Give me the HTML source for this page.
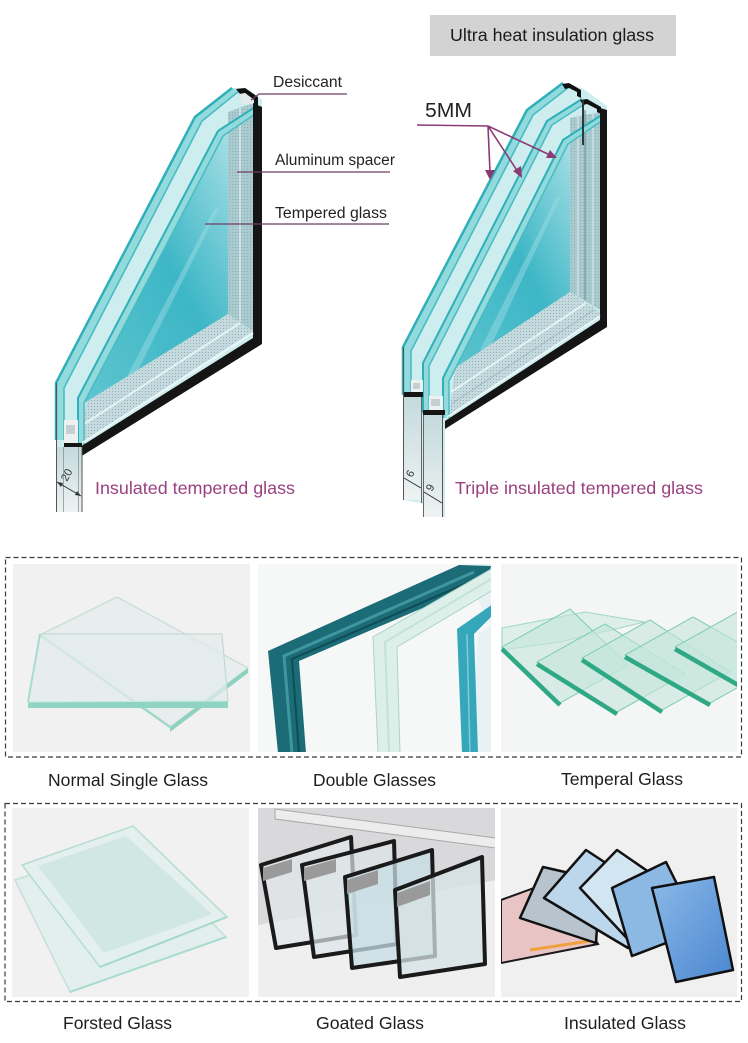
<!DOCTYPE html>
<html><head><meta charset="utf-8"><style>
html,body{margin:0;padding:0;background:#fff;}
svg{display:block;}
text{font-family:"Liberation Sans",Arial,sans-serif;}
</style></head><body>
<svg width="748" height="1043" viewBox="0 0 748 1043" xmlns="http://www.w3.org/2000/svg">
<defs>
 <pattern id="dots" width="3" height="3" patternUnits="userSpaceOnUse"><circle cx="1.5" cy="1.5" r="0.55" fill="#86a8ad"/></pattern>
 <linearGradient id="inner" x1="1" y1="0" x2="0" y2="1"><stop offset="0" stop-color="#a3dee4"/><stop offset="0.45" stop-color="#3db6c6"/><stop offset="1" stop-color="#5ec5cf"/></linearGradient>
 <linearGradient id="xsec" x1="0" y1="0" x2="0" y2="1"><stop offset="0" stop-color="#c4dadd"/><stop offset="1" stop-color="#eef2f2"/></linearGradient>
 <linearGradient id="blue6" x1="0" y1="0" x2="1" y2="1"><stop offset="0" stop-color="#8cb9e8"/><stop offset="1" stop-color="#4a86d0"/></linearGradient>
 <clipPath id="c1"><rect x="13" y="564" width="237" height="188"/></clipPath>
 <clipPath id="c2"><rect x="258" y="564" width="233" height="188"/></clipPath>
 <clipPath id="c3"><rect x="501" y="564" width="236" height="188"/></clipPath>
 <clipPath id="c4"><rect x="12" y="808" width="237" height="189"/></clipPath>
 <clipPath id="c5"><rect x="258" y="808" width="237" height="189"/></clipPath>
 <clipPath id="c6"><rect x="501" y="808" width="236" height="189"/></clipPath>
</defs>

<!-- header -->
<rect x="430" y="15" width="246" height="41" fill="#d3d3d3"/>
<text x="450" y="41" font-size="17.8" textLength="204" lengthAdjust="spacingAndGlyphs" fill="#1a1a1a">Ultra heat insulation glass</text>

<!-- ============ LEFT DIAGRAM ============ -->
<g>
<polygon points="56,383 195,117 232,88 246,88 262,100 262,343 82,456 82,512 56,512" fill="#cdedef"/>
<polygon points="84,402 223,135 228,135 228,314 86,402" fill="url(#inner)"/>
<polygon points="125,380 214,210 220,206 134,378" fill="#9fdde4" opacity="0.45"/>
<polygon points="228,112 253,103 253,331 228,315" fill="#a9cbd0"/>
<polygon points="228,112 253,103 253,331 228,315" fill="url(#dots)"/>
<line x1="240" y1="108" x2="240" y2="322" stroke="#cde0e3" stroke-width="2"/>
<polygon points="86,402 228,314 253,331 82,442" fill="#c4dade"/>
<polygon points="86,402 228,314 253,331 82,442" fill="url(#dots)"/>
<line x1="84" y1="424" x2="240" y2="323" stroke="#e6f3f4" stroke-width="2"/>
<polygon points="56,440 56,383 195,117 232,88 239,91 202,121 64,388 64,440" fill="#93dadd"/>
<polyline points="56,440 56,383 195,117 232,88" fill="none" stroke="#2fb0b9" stroke-width="2.5"/>
<polyline points="64,440 64,388 202,121 239,91" fill="none" stroke="#48bcc3" stroke-width="1.6"/>
<polygon points="78,445 78,398 218,131 255,107 258,112 223,136 84,403 84,445" fill="#93dadd"/>
<polyline points="78,445 78,398 218,131 255,107" fill="none" stroke="#2fb0b9" stroke-width="2"/>
<polyline points="84,445 84,403 223,136 258,112" fill="none" stroke="#48bcc3" stroke-width="1.5"/>
<polygon points="253,103 262,107 262,344 80,457 80,447 253,338" fill="#151515"/>
<line x1="82" y1="443" x2="253" y2="333" stroke="#eef7f8" stroke-width="1.8"/>
<path d="M236,89 L245,88 L258,97 L258,106 L254,104 L254,100 L245,93 L240,94 Z" fill="#111"/>
<polygon points="240,94 245,93 253,99 253,104 242,104" fill="#e4eaeb"/>
<!-- cross-section -->
<rect x="56" y="447" width="26" height="65" fill="url(#xsec)"/>
<rect x="64" y="420" width="14" height="24" fill="#eef1f1"/>
<rect x="66" y="425" width="9" height="9" fill="#c6cfd1"/>
<rect x="64" y="443" width="18" height="4" fill="#151515"/>
<line x1="56.5" y1="383" x2="56.5" y2="512" stroke="#555" stroke-width="1"/>
<line x1="63.5" y1="447" x2="63.5" y2="512" stroke="#8a9597" stroke-width="0.8"/>
<line x1="78.5" y1="447" x2="78.5" y2="512" stroke="#8a9597" stroke-width="0.8"/>
<line x1="82" y1="447" x2="82" y2="512" stroke="#555" stroke-width="1"/>
<line x1="57" y1="482" x2="81" y2="496" stroke="#333" stroke-width="1"/>
<polygon points="57,482 63,483 61,487" fill="#333"/>
<polygon points="81,496 75,495 77,491" fill="#333"/>
<text x="0" y="0" font-size="11" fill="#333" transform="translate(67,482) rotate(-62)">20</text>
</g>

<!-- left labels -->
<text x="273" y="87" font-size="15.5" textLength="69" lengthAdjust="spacingAndGlyphs" fill="#222">Desiccant</text>
<polyline points="251,100 259,94 347,94" fill="none" stroke="#6e3f63" stroke-width="1.3"/>
<text x="275" y="165" font-size="15.5" textLength="120" lengthAdjust="spacingAndGlyphs" fill="#222">Aluminum spacer</text>
<line x1="237" y1="172" x2="390" y2="172" stroke="#6e3f63" stroke-width="1.3"/>
<text x="275" y="218" font-size="15.5" textLength="112" lengthAdjust="spacingAndGlyphs" fill="#222">Tempered glass</text>
<line x1="205" y1="224" x2="389" y2="224" stroke="#6e3f63" stroke-width="1.3"/>
<text x="95" y="494" font-size="17.8" textLength="200" lengthAdjust="spacingAndGlyphs" fill="#9a3f80">Insulated tempered glass</text>

<!-- ============ RIGHT DIAGRAM ============ -->
<g>
<polygon points="403,347 527,110 563,83 582,88 607,106 607,327 445,429 445,517 423,517 423,505 421,503 403,500" fill="#cdedef"/>
<polygon points="449,381 568,144 570,144 570,292 455,368" fill="url(#inner)"/>
<polygon points="480,350 555,200 561,196 490,348" fill="#9fdde4" opacity="0.45"/>
<polygon points="570,118 600,112 600,310 570,292" fill="#a9cbd0"/>
<polygon points="570,118 600,112 600,310 570,292" fill="url(#dots)"/>
<line x1="585" y1="110" x2="585" y2="300" stroke="#7fa2a8" stroke-width="1.5"/>
<line x1="578" y1="112" x2="578" y2="296" stroke="#cde0e3" stroke-width="1.5"/>
<line x1="593" y1="112" x2="593" y2="305" stroke="#cde0e3" stroke-width="1.5"/>
<polygon points="455,368 570,292 603,314 449,416" fill="#c4dade"/>
<polygon points="455,368 570,292 603,314 449,416" fill="url(#dots)"/>
<line x1="451" y1="392" x2="586" y2="303" stroke="#e6f3f4" stroke-width="2"/>
<line x1="451" y1="404" x2="594" y2="310" stroke="#9fbcc0" stroke-width="1"/>
<!-- panes -->
<polygon points="403,395 403,347 527,110 563,83 569,87 533,115 411,351 411,395" fill="#93dadd"/>
<polyline points="403,395 403,347 527,110 563,83" fill="none" stroke="#2fb0b9" stroke-width="2.5"/>
<polyline points="411,395 411,351 533,115 569,87" fill="none" stroke="#48bcc3" stroke-width="1.6"/>
<polygon points="423,413 423,363 547,121 582,99 586,103 552,125 429,366 429,413" fill="#93dadd"/>
<polyline points="423,413 423,363 547,121 582,99" fill="none" stroke="#2fb0b9" stroke-width="2"/>
<polyline points="429,413 429,366 552,125 586,103" fill="none" stroke="#48bcc3" stroke-width="1.5"/>
<polygon points="443,418 443,378 563,140 600,116 600,122 568,144 449,381 449,418" fill="#93dadd"/>
<polyline points="443,418 443,378 563,140 600,116" fill="none" stroke="#2fb0b9" stroke-width="2"/>
<polyline points="449,418 449,381 568,144 600,122" fill="none" stroke="#48bcc3" stroke-width="1.5"/>
<polygon points="600,108 607,110 607,327 445,429 445,421 600,320" fill="#151515"/>
<line x1="447" y1="417" x2="600" y2="316" stroke="#eef7f8" stroke-width="1.6"/>
<path d="M562,84 L569,83 L581,90 L581,98 L577,96 L577,92 L569,88 L565,89 Z" fill="#111"/>
<path d="M580,100 L587,99 L601,107 L601,114 L597,112 L597,109 L587,104 L583,105 Z" fill="#111"/>
<line x1="583" y1="100" x2="583" y2="145" stroke="#2a3a3c" stroke-width="2"/>
<!-- cross-section -->
<rect x="403" y="397" width="18" height="103" fill="url(#xsec)"/>
<rect x="423" y="415" width="20" height="102" fill="url(#xsec)"/>
<rect x="411" y="380" width="12" height="13" fill="#eef1f1"/>
<rect x="413" y="383" width="7" height="6" fill="#c6cfd1"/>
<rect x="429" y="396" width="14" height="15" fill="#eef1f1"/>
<rect x="431" y="399" width="9" height="7" fill="#c6cfd1"/>
<rect x="403" y="392" width="20" height="5" fill="#151515"/>
<rect x="423" y="410" width="22" height="5" fill="#151515"/>
<line x1="403.5" y1="347" x2="403.5" y2="500" stroke="#555" stroke-width="1"/>
<line x1="421.5" y1="397" x2="421.5" y2="503" stroke="#666" stroke-width="1"/>
<line x1="423.5" y1="415" x2="423.5" y2="517" stroke="#666" stroke-width="1"/>
<line x1="442.5" y1="415" x2="442.5" y2="517" stroke="#555" stroke-width="1"/>
<line x1="404" y1="478" x2="421" y2="488" stroke="#333" stroke-width="1"/>
<line x1="424" y1="492" x2="442" y2="503" stroke="#333" stroke-width="1"/>
<text x="0" y="0" font-size="11" fill="#333" transform="translate(412,478) rotate(-62)">6</text>
<text x="0" y="0" font-size="11" fill="#333" transform="translate(432,492) rotate(-62)">9</text>
</g>

<!-- 5MM arrows -->
<text x="425" y="117" font-size="20" textLength="47" lengthAdjust="spacingAndGlyphs" fill="#222">5MM</text>
<g stroke="#8b3b73" stroke-width="1.6" fill="none">
<polyline points="417,125 488,126"/>
<line x1="488" y1="126" x2="490" y2="172"/>
<line x1="488" y1="126" x2="518" y2="172"/>
<line x1="488" y1="126" x2="550" y2="155"/>
</g>
<g fill="#8b3b73">
<polygon points="490,180 485,170 495,170"/>
<polygon points="522,178 513,171 521,166"/>
<polygon points="557,158 546,158 550,150"/>
</g>
<text x="455" y="494" font-size="17.8" textLength="248" lengthAdjust="spacingAndGlyphs" fill="#9a3f80">Triple insulated tempered glass</text>

<!-- ============ BOX 1 ============ -->
<rect x="5.5" y="557.5" width="736" height="199.5" fill="none" stroke="#3a3a3a" stroke-width="1.2" stroke-dasharray="5,3"/>

<!-- img1 -->
<g clip-path="url(#c1)">
<rect x="13" y="564" width="237" height="188" fill="#f1f1f1"/>
<polygon points="117,597 248,668 170,727 40,635" fill="#e8eeed" stroke="#c2d8d3" stroke-width="1"/>
<polygon points="248,668 248,673 170,732 170,727" fill="#8fd2c0"/>
<line x1="40" y1="635" x2="170" y2="727" stroke="#9fd7c8" stroke-width="2.5"/>
<polygon points="40,634 222,634 228,701 28,702" fill="#e3ebeb" fill-opacity="0.75" stroke="#bcd6d0" stroke-width="1"/>
<polygon points="28,702 228,701 228,708 28,708" fill="#8fd4c2"/>
<line x1="28" y1="702" x2="228" y2="701" stroke="#c8ebe1" stroke-width="1"/>
<line x1="40" y1="634" x2="28" y2="702" stroke="#a6dccf" stroke-width="2"/>
</g>

<!-- img2 -->
<g clip-path="url(#c2)">
<rect x="258" y="564" width="233" height="188" fill="#f6f8f8"/>
<polygon points="459,564 491,564 491,752 470,752 478,634 491,625" fill="#e8f1f3"/>
<polygon points="459,565 268,651 278,753 306,753 299,661 488,580 491,566" fill="#1c6c77"/>
<polyline points="474,572 284,656 292,753" fill="none" stroke="#3f969f" stroke-width="3"/>
<polyline points="481,577 292,659 299,753" fill="none" stroke="#0f4d56" stroke-width="2"/>
<polygon points="493,568 373,637 378,753 400,753 397,647 493,590" fill="#dcefe9" stroke="#acd3ca" stroke-width="1"/>
<polyline points="493,578 385,642 389,753" fill="none" stroke="#c2e2da" stroke-width="2"/>
<polygon points="493,604 457,629 462,753 478,753 474,634 493,615" fill="#36a7ba"/>
<line x1="467" y1="634" x2="470" y2="753" stroke="#7fcbd6" stroke-width="1.5"/>
</g>

<!-- img3 -->
<g clip-path="url(#c3)">
<rect x="501" y="564" width="236" height="188" fill="#f4f5f5"/>
<polygon points="502,628 585,612 645,622 560,642 502,650" fill="#d3ece3" fill-opacity="0.7" stroke="#9fd6c4" stroke-width="1"/>
<polygon points="502,647 560,703 628,665 570,609" fill="#c5e6da" fill-opacity="0.6" stroke="#7acbb3" stroke-width="1"/>
<line x1="502" y1="649" x2="560" y2="705" stroke="#2fa985" stroke-width="4.5"/>
<polygon points="537,662 617,712 685,674 605,624" fill="#c5e6da" fill-opacity="0.6" stroke="#7acbb3" stroke-width="1"/>
<line x1="537" y1="664" x2="617" y2="714" stroke="#2fa985" stroke-width="4.5"/>
<polygon points="582,658 662,710 730,672 650,620" fill="#c5e6da" fill-opacity="0.6" stroke="#7acbb3" stroke-width="1"/>
<line x1="582" y1="660" x2="662" y2="712" stroke="#2fa985" stroke-width="4.5"/>
<polygon points="625,655 710,703 778,665 693,617" fill="#c5e6da" fill-opacity="0.6" stroke="#7acbb3" stroke-width="1"/>
<line x1="625" y1="657" x2="710" y2="705" stroke="#2fa985" stroke-width="4.5"/>
<polygon points="675,647 745,687 813,649 743,609" fill="#c5e6da" fill-opacity="0.6" stroke="#7acbb3" stroke-width="1"/>
<line x1="675" y1="649" x2="745" y2="689" stroke="#2fa985" stroke-width="4.5"/>
</g>

<text x="48" y="786" font-size="17.5" textLength="160" lengthAdjust="spacingAndGlyphs" fill="#1e1e1e">Normal Single Glass</text>
<text x="313" y="786" font-size="17.5" textLength="123" lengthAdjust="spacingAndGlyphs" fill="#1e1e1e">Double Glasses</text>
<text x="561" y="785" font-size="17.5" textLength="122" lengthAdjust="spacingAndGlyphs" fill="#1e1e1e">Temperal Glass</text>

<!-- ============ BOX 2 ============ -->
<rect x="5" y="803.5" width="736.5" height="198" fill="none" stroke="#3a3a3a" stroke-width="1.2" stroke-dasharray="5,3"/>

<!-- img4 -->
<g clip-path="url(#c4)">
<rect x="12" y="808" width="237" height="189" fill="#f1f1f1"/>
<polygon points="15,880 132,840 226,937 70,992" fill="#e2efec" stroke="#c4e0da" stroke-width="1.5"/>
<line x1="70" y1="992" x2="226" y2="937" stroke="#a9dccf" stroke-width="2"/>
<polygon points="22,865 133,826 227,917 100,967" fill="#e3f0ed" stroke="#b7dcd3" stroke-width="1.5"/>
<polygon points="38,866 126,836 212,914 104,953" fill="#d0e7e2"/>
<line x1="100" y1="967" x2="227" y2="917" stroke="#a4d8ca" stroke-width="2"/>
</g>

<!-- img5 -->
<g clip-path="url(#c5)">
<rect x="258" y="808" width="237" height="189" fill="#d9d9db"/>
<polygon points="258,925 496,880 496,997 258,997" fill="#efeff0"/>
<polygon points="275,809 496,838 496,848 275,819" fill="#ececec" stroke="#a8a8a8" stroke-width="1"/>
<g stroke="#1a1a1a" stroke-width="4" stroke-linejoin="round">
<polygon points="261,865 351,837 356,935 276,948" fill="#e3e7e9" fill-opacity="0.7"/>
<polygon points="302,865 394,841 397,944 314,957" fill="#dde5e8" fill-opacity="0.7"/>
<polygon points="345,877 432,850 435,956 352,968" fill="#c6dde4" fill-opacity="0.75"/>
<polygon points="395,890 482,857 485,964 400,977" fill="#d6e2e6" fill-opacity="0.75"/>
</g>
<polygon points="263,868 292,859 292,872 263,881" fill="#9a9a9a"/>
<polygon points="304,868 336,859 336,872 304,881" fill="#9a9a9a"/>
<polygon points="347,880 378,870 378,884 347,894" fill="#9a9a9a"/>
<polygon points="397,893 430,881 430,895 397,907" fill="#9a9a9a"/>
</g>

<!-- img6 -->
<g clip-path="url(#c6)">
<rect x="501" y="808" width="236" height="189" fill="#f0f0f0"/>
<polygon points="501,900 556,880 598,944 501,963" fill="#e8c4c4" stroke="#1a1a1a" stroke-width="2"/>
<line x1="530" y1="950" x2="596" y2="940" stroke="#eea23c" stroke-width="3"/>
<g stroke="#111" stroke-width="2.5" stroke-linejoin="round">
<polygon points="520,918 543,867 600,880 596,943" fill="#b8c4cd"/>
<polygon points="544,898 586,850 650,892 628,948" fill="#bcd6ec"/>
<polygon points="580,888 617,850 672,888 636,948" fill="#d2e6f1"/>
<polygon points="612,888 666,862 700,930 632,956" fill="#8cb8e4"/>
<polygon points="652,888 714,877 733,970 676,982" fill="url(#blue6)"/>
</g>
</g>

<text x="63" y="1029" font-size="17.5" textLength="109" lengthAdjust="spacingAndGlyphs" fill="#1e1e1e">Forsted Glass</text>
<text x="316" y="1029" font-size="17.5" textLength="108" lengthAdjust="spacingAndGlyphs" fill="#1e1e1e">Goated Glass</text>
<text x="564" y="1029" font-size="17.5" textLength="122" lengthAdjust="spacingAndGlyphs" fill="#1e1e1e">Insulated Glass</text>
</svg>
</body></html>
